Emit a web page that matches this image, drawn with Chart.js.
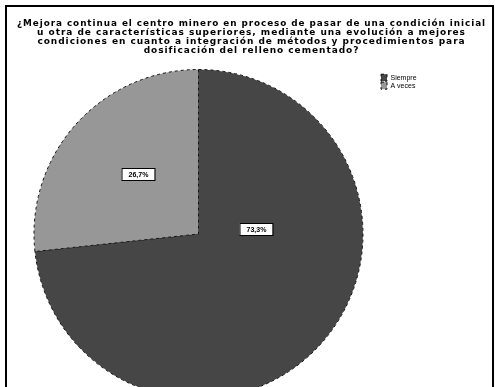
<!DOCTYPE html>
<html>
<head>
<meta charset="utf-8">
<script src="https://cdn.jsdelivr.net/npm/chart.js@4/dist/chart.umd.min.js"></script>
<style>
  html, body { margin: 0; padding: 0; background: #fff; overflow: hidden; }
  body { width: 495px; height: 387px; position: relative; }
  #frame {
    position: absolute; left: 5px; top: 5px; width: 489px; height: 420px;
    border: 2px solid #000; box-sizing: border-box; background: #fff;
  }
  #pie { position: absolute; left: 7px; top: 7px; }
</style>
</head>
<body>
<div id="frame"></div>
<canvas id="pie" width="488" height="400"></canvas>
<script>
// datos de la grafica
var titleLines = [
  "¿Mejora continua el centro minero en proceso de pasar de una condición inicial",
  "u otra de características superiores, mediante una evolución a mejores",
  "condiciones en cuanto a integración de métodos y procedimientos para",
  "dosificación del relleno cementado?"
];
var categories = ["Siempre", "A veces"];
var percents = [73.3, 26.7];
var sliceColors = ["#464646", "#979797"];

// donde va cada etiqueta: giro respecto al centro del sector (grados) y fraccion del radio
var labelShift = [-47, 3];
var labelRadius = [0.35, 0.52];
var legendWidth = 106;

var pctLabels = {
  id: "pctLabels",
  afterDatasetsDraw: function (chart) {
    var ctx = chart.ctx;
    var meta = chart.getDatasetMeta(0);
    ctx.save();
    ctx.font = "bold 7px 'Liberation Sans', Arial, sans-serif";
    ctx.textAlign = "center";
    ctx.textBaseline = "middle";
    meta.data.forEach(function (arc, i) {
      var mid = (arc.startAngle + arc.endAngle) / 2 + labelShift[i] * Math.PI / 180;
      var r = arc.outerRadius * labelRadius[i];
      var x = Math.round(arc.x + Math.cos(mid) * r);
      var y = Math.round(arc.y + Math.sin(mid) * r);
      var txt = percents[i].toFixed(1).replace(".", ",") + "%";
      var w = 33, h = 12;
      ctx.fillStyle = "#fff";
      ctx.fillRect(x - w / 2, y - h / 2, w, h);
      ctx.strokeStyle = "#000";
      ctx.lineWidth = 1;
      ctx.strokeRect(x - w / 2 + 0.5, y - h / 2 + 0.5, w, h);
      ctx.fillStyle = "#000";
      ctx.fillText(txt, x + 0.5, y + 1);
    });
    ctx.restore();
  }
};

// ancho fijo para la leyenda y titulo mas espaciado, como en el original
var boxFix = {
  id: "boxFix",
  beforeUpdate: function (chart) {
    var lg = chart.legend;
    if (lg && !lg._fixed) {
      var fit = lg.fit;
      lg.fit = function () {
        fit.call(this);
        this.width = legendWidth;
      };
      lg._fixed = true;
    }
    var tb = chart.titleBlock;
    if (tb && !tb._fixed) {
      var draw = tb.draw;
      tb.draw = function () {
        var ctx = this.ctx;
        ctx.letterSpacing = "0.95px";
        draw.call(this);
        ctx.letterSpacing = "0px";
      };
      tb._fixed = true;
    }
  }
};

new Chart(document.getElementById("pie"), {
  type: "pie",
  data: {
    labels: categories,
    datasets: [{
      data: percents,
      backgroundColor: sliceColors,
      borderColor: "#111",
      borderWidth: 1,
      borderDash: [3, 3]
    }]
  },
  plugins: [pctLabels, boxFix],
  options: {
    responsive: false,
    animation: false,
    rotation: 0,
    layout: { padding: { left: 10, right: 9, bottom: 8, top: 0 } },
    plugins: {
      tooltip: { enabled: false },
      title: {
        display: true,
        text: titleLines,
        color: "#000",
        font: { family: "'DejaVu Sans', sans-serif", size: 9, weight: "bold", lineHeight: 1.0 },
        padding: { top: 12, bottom: 14 }
      },
      legend: {
        position: "right",
        align: "start",
        fullSize: false,
        title: { display: true, text: " ", font: { size: 1 }, padding: { top: 3, bottom: 0 } },
        labels: {
          color: "#000",
          boxWidth: 6,
          boxHeight: 7,
          padding: 1,
          font: { family: "'Liberation Sans', Arial, sans-serif", size: 7, lineHeight: 1 }
        }
      }
    }
  }
});
</script>
</body>
</html>
